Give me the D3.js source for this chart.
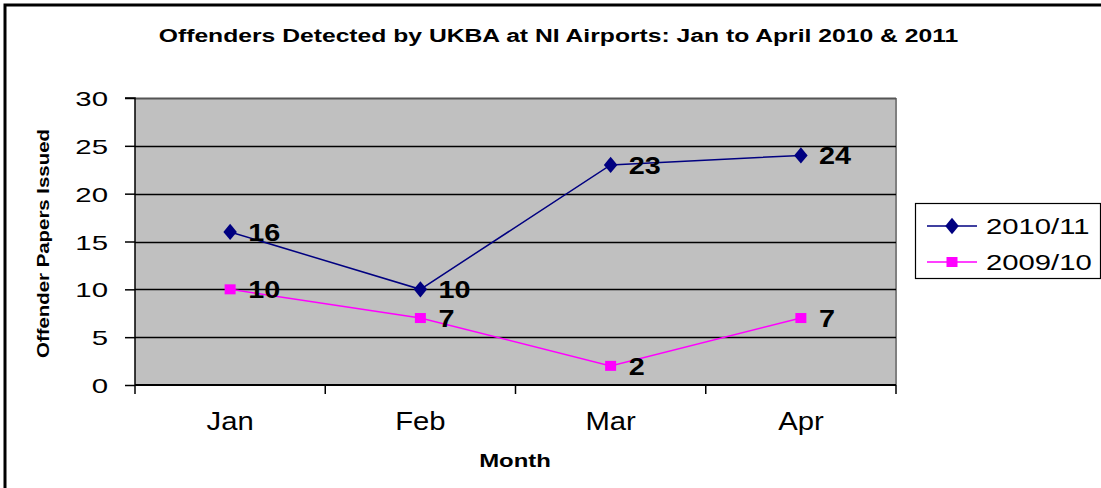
<!DOCTYPE html>
<html>
<head>
<meta charset="utf-8">
<script src="https://cdn.jsdelivr.net/npm/d3@7"></script>
<style>
  body { margin: 0; background: #fff; }
  svg { display: block; font-family: "Liberation Sans", Arial, sans-serif; }
</style>
</head>
<body>
<svg id="chart" width="1101" height="488"></svg>
<script>
const months = ["Jan", "Feb", "Mar", "Apr"];
const series2010 = [16, 10, 23, 24];
const series2009 = [10, 7, 2, 7];
const seriesNames = ["2010/11", "2009/10"];
const yTicks = [0, 5, 10, 15, 20, 25, 30];

const svg = d3.select("#chart");
const width = 1101, height = 488;
const margin = { top: 98, right: 205, bottom: 103, left: 135 };
const plotRight = width - margin.right; // ~896
const plotBottom = height - margin.bottom; // 385

// the original picture is stretched sideways, so text gets a horizontal scale
function wideText(parent, x, y, txt, size, sx, anchor, bold) {
    return parent.append("text")
        .attr("transform", `translate(${x},${y}) scale(${sx},1)`)
        .attr("text-anchor", anchor || "start")
        .attr("font-size", size)
        .attr("font-weight", bold ? "bold" : "normal")
        .attr("fill", "black")
        .text(txt);
}

// outer chart border
svg.append("rect")
    .attr("x", 5).attr("y", 5)
    .attr("width", width + 10).attr("height", height + 10)
    .attr("fill", "white").attr("stroke", "black").attr("stroke-width", 3);

let x = d3.scaleBand().domain(months).range([margin.left, plotRight]);
let y = d3.scaleLinear().domain([0, 30]).range([plotBottom, margin.top]);

// plot area
svg.append("rect")
    .attr("x", margin.left).attr("y", margin.top)
    .attr("width", plotRight - margin.left).attr("height", plotBottom - margin.top)
    .attr("fill", "#c0c0c0");
svg.append("line")
    .attr("x1", plotRight).attr("x2", plotRight)
    .attr("y1", margin.top).attr("y2", plotBottom)
    .attr("stroke", "#808080").attr("stroke-width", 2);

// gridlines
svg.append("g").selectAll("line")
    .data(yTicks.filter(d => d > 0))
    .enter().append("line")
    .attr("x1", margin.left).attr("x2", plotRight)
    .attr("y1", d => Math.round(y(d)) + 0.5).attr("y2", d => Math.round(y(d)) + 0.5)
    .attr("stroke", d => d === 30 ? "#555" : "black").attr("stroke-width", d => d === 30 ? 2 : 1.3);

// y axis
let yAxis = d3.axisLeft(y).tickValues(yTicks).tickSize(10).tickFormat("");
let gy = svg.append("g").attr("transform", `translate(${margin.left},0)`).call(yAxis);
gy.selectAll("line, path").attr("stroke", "black").attr("stroke-width", 1.5);
gy.select(".domain").attr("d", `M-10,${margin.top}H0V${plotBottom}`);
yTicks.forEach(t => wideText(svg, 108, y(t) + 8, t, 21, 1.4, "end"));

// x axis: ticks on band boundaries
let gx = svg.append("g").attr("transform", `translate(0,${plotBottom})`);
gx.append("line").attr("x1", margin.left).attr("x2", plotRight)
    .attr("stroke", "black").attr("stroke-width", 2);
let bounds = months.map(m => x(m)).concat([plotRight]);
gx.selectAll(".tk").data(bounds).enter().append("line")
    .attr("x1", d => d).attr("x2", d => d).attr("y1", 0).attr("y2", 9)
    .attr("stroke", "black").attr("stroke-width", 1.5);
months.forEach(m => wideText(svg, x(m) + x.bandwidth() / 2, 430, m, 25, 1.17, "middle"));

// titles
wideText(svg, 558.5, 42, "Offenders Detected by UKBA at NI Airports: Jan to April 2010 & 2011", 19, 1.3, "middle", true);
wideText(svg, 515, 467, "Month", 18, 1.33, "middle", true);
svg.append("text")
    .attr("transform", `translate(49,${(130 + 357) / 2}) rotate(-90) scale(1.2,1)`)
    .attr("text-anchor", "middle").attr("font-size", 17).attr("font-weight", "bold")
    .text("Offender Papers Issued");

// series
const cx = m => x(m) + x.bandwidth() / 2;
const line = d3.line().x((d, i) => cx(months[i])).y(d => y(d));
const diamond = d3.symbol().type(d3.symbolDiamond).size(120);

svg.append("path").datum(series2010).attr("d", line)
    .attr("fill", "none").attr("stroke", "#000080").attr("stroke-width", 1.5);
svg.append("path").datum(series2009).attr("d", line)
    .attr("fill", "none").attr("stroke", "#ff00ff").attr("stroke-width", 1.5);

svg.selectAll(".d10").data(series2010).enter().append("path")
    .attr("d", diamond)
    .attr("transform", (d, i) => `translate(${cx(months[i])},${y(d)}) scale(1.15,0.8)`)
    .attr("fill", "#000080");
svg.selectAll(".s09").data(series2009).enter().append("rect")
    .attr("x", (d, i) => cx(months[i]) - 5.5).attr("y", d => y(d) - 5)
    .attr("width", 11).attr("height", 10).attr("fill", "#ff00ff");

// data labels
[series2010, series2009].forEach(s => {
    s.forEach((d, i) => wideText(svg, cx(months[i]) + 18, y(d) + 9, d, 24, 1.2, "start", true));
});

// legend
let lg = svg.append("g");
lg.append("rect").attr("x", 915.5).attr("y", 203.5).attr("width", 185).attr("height", 75)
    .attr("fill", "white").attr("stroke", "black").attr("stroke-width", 1.2);
let legendItems = [
    { name: seriesNames[0], color: "#000080", type: "diamond", y: 226 },
    { name: seriesNames[1], color: "#ff00ff", type: "square", y: 262 }
];
legendItems.forEach(it => {
    lg.append("line").attr("x1", 927).attr("x2", 977).attr("y1", it.y).attr("y2", it.y)
        .attr("stroke", it.color).attr("stroke-width", 1.5);
    if (it.type === "diamond") {
        lg.append("path").attr("d", diamond)
            .attr("transform", `translate(952,${it.y}) scale(1.15,0.8)`).attr("fill", it.color);
    } else {
        lg.append("rect").attr("x", 946.5).attr("y", it.y - 5).attr("width", 11).attr("height", 10)
            .attr("fill", it.color);
    }
    wideText(lg, 986, it.y + 8, it.name, 22, 1.33, "start");
});
</script>
</body>
</html>
